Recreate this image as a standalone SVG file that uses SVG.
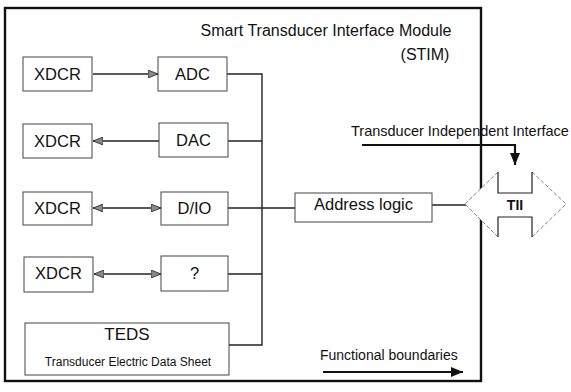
<svg xmlns="http://www.w3.org/2000/svg" width="571" height="392" viewBox="0 0 571 392">
<style>
text{font-family:"Liberation Sans",Arial,sans-serif;fill:#111}
.box{fill:#fff;stroke:#444;stroke-width:1}
.lbl{font-size:16.5px;text-anchor:middle}
.con{fill:none;stroke:#222;stroke-width:1.4}
.thick{fill:none;stroke:#111;stroke-width:2.2}
</style>
<defs>
<marker id="ah" viewBox="0 0 10 8" refX="10" refY="4" markerWidth="10" markerHeight="8" markerUnits="userSpaceOnUse" orient="auto-start-reverse">
<path d="M0,0 L10,4 L0,8 Z" fill="#888" stroke="#222" stroke-width="0.8"/>
</marker>
<marker id="bh" viewBox="0 0 12 10" refX="12" refY="5" markerWidth="12" markerHeight="10" markerUnits="userSpaceOnUse" orient="auto">
<path d="M0,0 L12,5 L0,10 Z" fill="#111"/>
</marker>
</defs>
<rect width="571" height="392" fill="#fff"/>
<g id="frame">
<rect x="5" y="8" width="476" height="373" fill="none" stroke="#111" stroke-width="2.4"/>
<text x="326" y="36" font-size="16" text-anchor="middle">Smart Transducer Interface Module</text>
<text x="425" y="60" font-size="16" text-anchor="middle">(STIM)</text>
</g>
<g id="connectors">
<line class="con" x1="93" y1="74" x2="158" y2="74" marker-end="url(#ah)"/>
<line class="con" x1="93" y1="141" x2="159" y2="141" marker-start="url(#ah)"/>
<line class="con" x1="93" y1="208" x2="161" y2="208" marker-start="url(#ah)" marker-end="url(#ah)"/>
<line class="con" x1="94" y1="274" x2="161" y2="274" marker-start="url(#ah)" marker-end="url(#ah)"/>
<path class="con" d="M227,74 H262 V345 H229"/>
<path class="con" d="M228,141 H262 M228,208 H295 M228,274 H262"/>
<line class="con" x1="432" y1="205" x2="466" y2="205"/>
<path class="thick" d="M362,145 H515 V165" marker-end="url(#bh)"/>
<line class="thick" x1="323" y1="372" x2="463" y2="372" marker-end="url(#bh)"/>
</g>
<g id="xdcr1"><rect class="box" x="23" y="57" width="69" height="34"/><text class="lbl" x="57.5" y="80">XDCR</text></g>
<g id="adc"><rect class="box" x="158" y="57" width="69" height="34"/><text class="lbl" x="192.5" y="80">ADC</text></g>
<g id="xdcr2"><rect class="box" x="23" y="124" width="69" height="34"/><text class="lbl" x="57.5" y="147">XDCR</text></g>
<g id="dac"><rect class="box" x="159" y="123" width="69" height="34"/><text class="lbl" x="193.5" y="146">DAC</text></g>
<g id="xdcr3"><rect class="box" x="23" y="192" width="69" height="33"/><text class="lbl" x="57.5" y="214">XDCR</text></g>
<g id="dio"><rect class="box" x="161" y="192" width="67" height="33"/><text class="lbl" x="194.5" y="214">D/IO</text></g>
<g id="xdcr4"><rect class="box" x="24" y="257" width="69" height="35"/><text class="lbl" x="58.5" y="279">XDCR</text></g>
<g id="unknown"><rect class="box" x="161" y="256" width="67" height="35"/><text class="lbl" x="194.5" y="279">?</text></g>
<g id="teds"><rect class="box" x="25" y="323" width="204" height="52"/><text x="127" y="340" font-size="17" text-anchor="middle">TEDS</text><text x="128" y="366" font-size="12" text-anchor="middle">Transducer Electric Data Sheet</text></g>
<g id="address"><rect class="box" x="295" y="193" width="137" height="29"/><text class="lbl" x="363.5" y="210">Address logic</text></g>
<g id="tii">
<polygon points="465,204 498,172 498,193 532,193 532,172 566,204 532,237 532,217 498,217 498,237" fill="#fff" stroke="none"/>
<path d="M465,204 L498,172 M532,172 L566,204 L532,237 M498,237 L465,204" fill="none" stroke="#777" stroke-width="0.9" stroke-dasharray="4,2"/>
<path d="M498,172 V193 H532 V172 M498,237 V217 H532 V237" fill="none" stroke="#222" stroke-width="1.2"/>
<text x="515" y="210" font-size="14" font-weight="bold" text-anchor="middle">TII</text>
</g>
<g id="labels">
<text x="351" y="136" font-size="14.5">Transducer Independent Interface</text>
<text x="320" y="360" font-size="14">Functional boundaries</text>
</g>
</svg>
